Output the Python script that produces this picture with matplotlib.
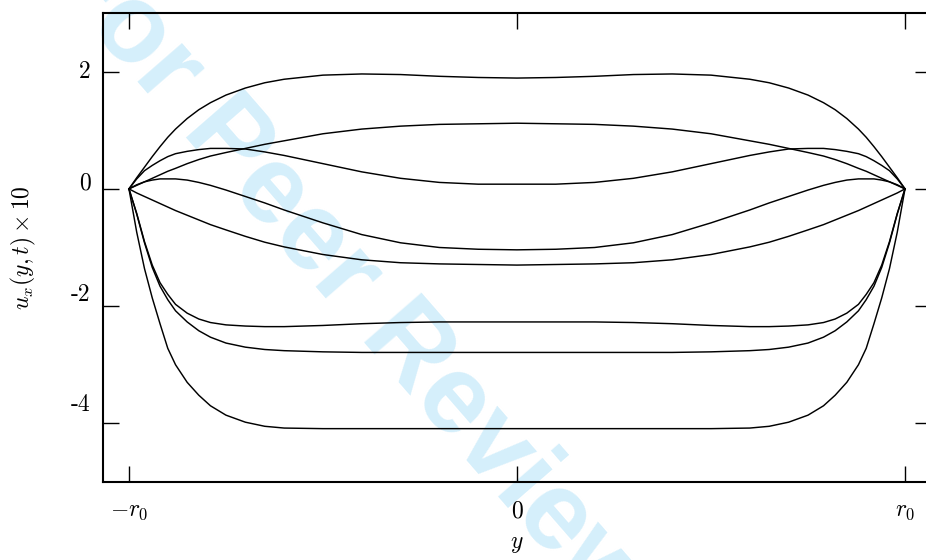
import numpy as np
import matplotlib
matplotlib.use('Agg')
import matplotlib.pyplot as plt
import matplotlib.transforms as mtransforms

plt.rcParams['font.family'] = 'serif'
plt.rcParams['font.serif'] = ['cmr10']
plt.rcParams['mathtext.fontset'] = 'cm'

# positions across the channel, in units of r0
ypos = [-1.0, -0.98, -0.96, -0.94, -0.92, -0.9, -0.88, -0.85, -0.82, -0.79, -0.75, -0.7, -0.65, -0.6,
        -0.5, -0.4, -0.3, -0.2, -0.1, 0.0, 0.1, 0.2, 0.3, 0.4, 0.5,
        0.6, 0.65, 0.7, 0.75, 0.79, 0.82, 0.85, 0.88, 0.9, 0.92, 0.94, 0.96, 0.98, 1.0]

# u_x * 10 profiles
prof_a = [0.0, 0.19, 0.37, 0.55, 0.72, 0.88, 1.02, 1.20, 1.35, 1.47, 1.60, 1.72, 1.81, 1.87,
          1.94, 1.96, 1.95, 1.92, 1.90, 1.89, 1.90, 1.92, 1.95, 1.96, 1.94,
          1.87, 1.81, 1.72, 1.60, 1.47, 1.35, 1.20, 1.02, 0.88, 0.72, 0.55, 0.37, 0.19, 0.0]
prof_b = [0.0, 0.06, 0.12, 0.18, 0.24, 0.30, 0.35, 0.43, 0.50, 0.56, 0.62, 0.69, 0.76, 0.82,
          0.94, 1.02, 1.07, 1.10, 1.11, 1.12, 1.11, 1.10, 1.07, 1.02, 0.94,
          0.82, 0.76, 0.69, 0.62, 0.56, 0.50, 0.43, 0.35, 0.30, 0.24, 0.18, 0.12, 0.06, 0.0]
prof_c = [0.0, 0.17, 0.31, 0.40, 0.48, 0.55, 0.60, 0.64, 0.67, 0.69, 0.69, 0.68, 0.63, 0.57,
          0.43, 0.29, 0.18, 0.11, 0.08, 0.08, 0.08, 0.11, 0.18, 0.29, 0.43,
          0.57, 0.63, 0.68, 0.69, 0.69, 0.67, 0.64, 0.60, 0.55, 0.48, 0.40, 0.31, 0.17, 0.0]
prof_d = [0.0, 0.07, 0.12, 0.15, 0.17, 0.17, 0.17, 0.15, 0.11, 0.06, -0.02, -0.13, -0.24, -0.36,
          -0.58, -0.78, -0.92, -1.00, -1.03, -1.04, -1.03, -1.00, -0.92, -0.78, -0.58,
          -0.36, -0.24, -0.13, -0.02, 0.06, 0.11, 0.15, 0.17, 0.17, 0.17, 0.15, 0.12, 0.07, 0.0]
prof_e = [0.0, -0.07, -0.13, -0.19, -0.25, -0.31, -0.37, -0.45, -0.53, -0.61, -0.70, -0.81, -0.91, -0.99,
          -1.12, -1.21, -1.26, -1.28, -1.29, -1.30, -1.29, -1.28, -1.26, -1.21, -1.12,
          -0.99, -0.91, -0.81, -0.70, -0.61, -0.53, -0.45, -0.37, -0.31, -0.25, -0.19, -0.13, -0.07, 0.0]
prof_f = [0.0, -0.42, -0.90, -1.30, -1.60, -1.80, -1.97, -2.12, -2.22, -2.28, -2.32, -2.34, -2.35, -2.35,
          -2.33, -2.30, -2.28, -2.27, -2.27, -2.27, -2.27, -2.27, -2.28, -2.30, -2.33,
          -2.35, -2.35, -2.34, -2.32, -2.28, -2.22, -2.12, -1.97, -1.80, -1.60, -1.30, -0.90, -0.42, 0.0]
prof_g = [0.0, -0.43, -0.92, -1.34, -1.66, -1.89, -2.08, -2.27, -2.42, -2.53, -2.63, -2.70, -2.74, -2.76,
          -2.78, -2.79, -2.79, -2.79, -2.79, -2.79, -2.79, -2.79, -2.79, -2.79, -2.78,
          -2.76, -2.74, -2.70, -2.63, -2.53, -2.42, -2.27, -2.08, -1.89, -1.66, -1.34, -0.92, -0.43, 0.0]
prof_h = [0.0, -0.74, -1.36, -1.86, -2.30, -2.72, -3.00, -3.30, -3.52, -3.70, -3.86, -3.98, -4.05, -4.08,
          -4.09, -4.09, -4.09, -4.09, -4.09, -4.09, -4.09, -4.09, -4.09, -4.09, -4.09,
          -4.08, -4.05, -3.98, -3.86, -3.70, -3.52, -3.30, -3.00, -2.72, -2.30, -1.86, -1.36, -0.74, 0.0]

profiles = [prof_a, prof_b, prof_c, prof_d, prof_e, prof_f, prof_g, prof_h]

yticks = [2, 0, -2, -4]
ylabels = ['2', '0', '-2', '-4']
xticks = [-1, 0, 1]
xlabels = [r'$-r_0$', r'$0$', r'$r_0$']

fig = plt.figure(figsize=[9.26, 5.6], dpi=100)
ax = fig.add_axes([0.1112, 0.1393, 0.8942, 0.8375])
ax.set_facecolor('none')

# watermark behind the axes
fig.text(0.376, 0.50, 'For Peer Review', family='Liberation Sans', weight='bold',
         fontsize=80, color='#d5effb', rotation=-49, rotation_mode='anchor',
         ha='center', va='center', zorder=-1)

for prof in profiles:
    ax.plot(ypos, prof, color='black', linewidth=1.05)

ax.set_xlim(-1.067, 1.067)
ax.set_ylim(-5., 3.)

ax.set_xticks(xticks)
ax.set_xticklabels(xlabels)
ax.set_yticks(yticks)
ax.set_yticklabels(ylabels)

ax.tick_params(direction='in', length=11.5, width=1.0, top=True, right=True,
               labelsize=17)
ax.tick_params(axis='y', pad=9)
ax.tick_params(axis='x', pad=13)
for s in ax.spines.values():
    s.set_linewidth(1.5)

# y tick labels sit a bit high in the original
for lab, dy in zip(ax.get_yticklabels(), [1.4, 5.8, 10.1, 15.1]):
    lab.set_transform(lab.get_transform() + mtransforms.ScaledTranslation(0, dy / 72., fig.dpi_scale_trans))

ax.set_xlabel(r'$y$', fontsize=17, labelpad=8)
ax.set_ylabel(r'$u_x(y,t)\times 10$', fontsize=17, labelpad=24)

fig.savefig('out.png', dpi=100)
